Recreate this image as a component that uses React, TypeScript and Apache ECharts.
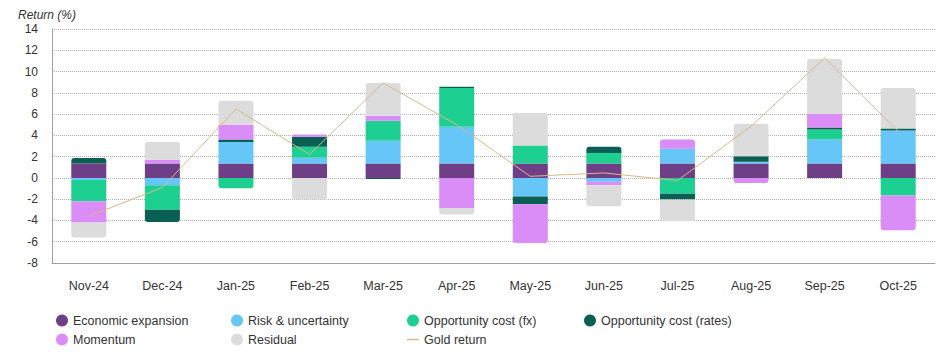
import React, { useEffect, useRef } from "react";
import * as echarts from "echarts";

const categories = ["Nov-24", "Dec-24", "Jan-25", "Feb-25", "Mar-25", "Apr-25", "May-25", "Jun-25", "Jul-25", "Aug-25", "Sep-25", "Oct-25"];
const economicExpansion = [1.35, 1.35, 1.35, 1.35, 1.35, 1.35, 1.35, 1.35, 1.35, 1.35, 1.35, 1.35];
const riskUncertainty = [-0.2, -0.7, 2.03, 0.55, 2.15, 3.47, -1.75, -0.35, 1.4, 0.18, 2.25, 3.1];
const oppCostFx = [-2.0, -2.3, -0.97, 1.04, 1.88, 3.64, 1.69, 1.0, -1.48, 0, 0.94, -1.66];
const oppCostRates = [0.53, -1.15, 0.22, 0.94, -0.1, 0.1, -0.73, 0.59, -0.56, 0.5, 0.19, 0.19];
const momentum = [-2.0, 0.35, 1.4, 0.2, 0.47, -2.82, -3.63, -0.35, 0.85, -0.47, 1.31, -3.26];
const residual = [-1.4, 1.68, 2.25, -2.0, 3.08, -0.63, 3.06, -1.97, -2.04, 3.07, 5.14, 3.82];
const goldReturn = [-3.6, -0.9, 6.48, 2.2, 8.93, 5.0, 0.15, 0.47, -0.25, 4.85, 11.28, 4.38];
const yTicks = { min: -8, max: 14, interval: 2 };

const barSeries = [
  { name: "Economic expansion", data: economicExpansion, color: "#6E3F86" },
  { name: "Risk & uncertainty", data: riskUncertainty, color: "#66C6F8" },
  { name: "Opportunity cost (fx)", data: oppCostFx, color: "#1ECF92" },
  { name: "Opportunity cost (rates)", data: oppCostRates, color: "#0A5F54" },
  { name: "Momentum", data: momentum, color: "#DA8CF7" },
  { name: "Residual", data: residual, color: "#DCDCDC" },
];
const lineName = "Gold return";

const FONT = "Liberation Sans, Arial, sans-serif";

export default function App() {
  const ref = useRef<HTMLDivElement>(null);
  useEffect(() => {
    if (!ref.current) return;
    const chart = echarts.init(ref.current, null, { renderer: "svg" });
    const R = 3;
    const topPos: number[] = [];
    const botNeg: number[] = [];
    categories.forEach((_, c) => {
      topPos[c] = -1;
      botNeg[c] = -1;
      barSeries.forEach((s, i) => {
        if (s.data[c] > 0) topPos[c] = i;
        if (s.data[c] < 0) botNeg[c] = i;
      });
    });
    const series: any[] = barSeries.map((s, i) => ({
      name: s.name,
      type: "bar",
      stack: "total",
      barWidth: 35,
      itemStyle: { color: s.color },
      data: s.data.map((v, c) => {
        let radius: number[] = [0, 0, 0, 0];
        if (v > 0 && topPos[c] === i) radius = [R, R, 0, 0];
        if (v < 0 && botNeg[c] === i) radius = [0, 0, R, R];
        return { value: v, itemStyle: { borderRadius: radius } };
      }),
    }));
    series.push({
      name: lineName,
      type: "line",
      data: goldReturn,
      symbol: "none",
      lineStyle: { color: "#D8B98A", width: 1 },
      itemStyle: { color: "#D8B98A" },
      z: 5,
    });

    const legendItems: any[] = [
      ...barSeries.map((s) => ({ name: s.name, icon: "circle" })),
      { name: lineName, icon: "path://M0,0 H12 V1.5 H0 Z" },
    ];
    // grid layout of the legend: 4 columns, 2 rows
    const colLeft = [51, 226, 402, 579];
    const rowTop = [309, 328];
    const legends = legendItems.map((item, idx) => ({
      left: colLeft[idx % 4],
      top: rowTop[Math.floor(idx / 4)],
      itemWidth: 12,
      itemHeight: 12,
      textStyle: { fontSize: 12.5, color: "#333", fontFamily: FONT },
      data: [item],
    }));

    chart.setOption({
      animation: false,
      textStyle: { fontFamily: FONT },
      grid: { left: 52, right: 7, top: 29, bottom: 90 },
      graphic: [
        {
          type: "text",
          left: 18,
          top: 9,
          style: { text: "Return (%)", font: "italic 12px " + FONT, fill: "#333" },
        },
      ],
      legend: legends,
      xAxis: {
        type: "category",
        data: categories,
        axisTick: { show: false },
        axisLine: { onZero: false, lineStyle: { color: "#A0A0A0" } },
        axisLabel: { color: "#333", fontSize: 12.5, margin: 16 },
      },
      yAxis: {
        type: "value",
        min: yTicks.min,
        max: yTicks.max,
        interval: yTicks.interval,
        axisLine: { show: true, lineStyle: { color: "#A0A0A0" } },
        axisTick: { show: false },
        axisLabel: { color: "#333", fontSize: 12, margin: 14 },
        splitLine: { lineStyle: { type: "dotted", color: "#B0B0B0" } },
      },
      series,
    });
    return () => chart.dispose();
  }, []);
  return <div ref={ref} style={{ width: 942, height: 353, position: "absolute", left: 0, top: 0 }} />;
}
